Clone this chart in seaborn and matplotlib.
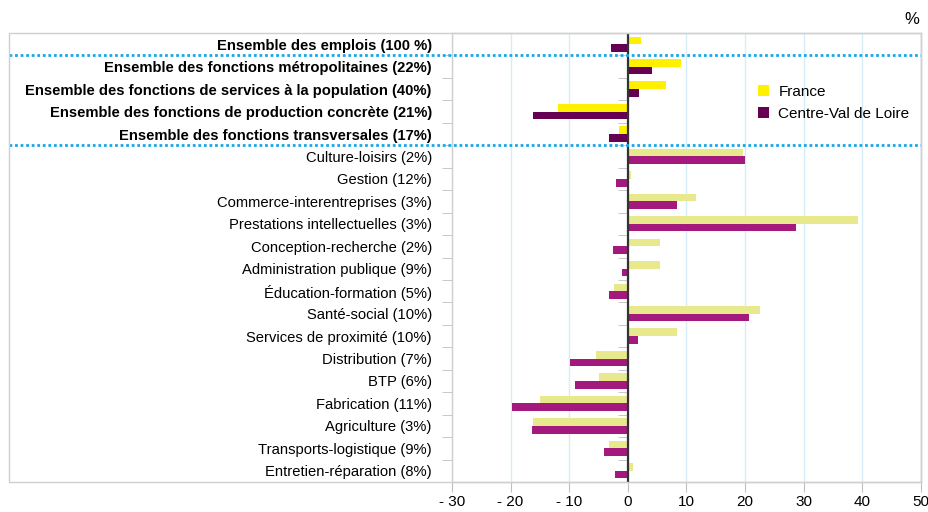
import matplotlib
matplotlib.use("Agg")
import matplotlib.pyplot as plt
import seaborn as sns
import pandas as pd
from matplotlib.patches import Patch, Rectangle
from matplotlib.ticker import FixedLocator

categories = [
    "Ensemble des emplois (100 %)",
    "Ensemble des fonctions métropolitaines (22%)",
    "Ensemble des fonctions de services à la population (40%)",
    "Ensemble des fonctions de production concrète (21%)",
    "Ensemble des fonctions transversales (17%)",
    "Culture-loisirs (2%)",
    "Gestion (12%)",
    "Commerce-interentreprises (3%)",
    "Prestations intellectuelles (3%)",
    "Conception-recherche (2%)",
    "Administration publique (9%)",
    "Éducation-formation (5%)",
    "Santé-social (10%)",
    "Services de proximité (10%)",
    "Distribution (7%)",
    "BTP (6%)",
    "Fabrication (11%)",
    "Agriculture (3%)",
    "Transports-logistique (9%)",
    "Entretien-réparation (8%)",
]
france = [2.2, 9.0, 6.5, -11.9, -1.5,
          19.6, 0.6, 11.7, 39.3, 5.5, 5.4, -2.4, 22.5, 8.3,
          -5.4, -4.9, -15.0, -16.1, -3.3, 0.8]
centre = [-2.8, 4.1, 1.95, -16.1, -3.2,
          19.9, -2.0, 8.3, 28.7, -2.6, -0.95, -3.3, 20.7, 1.8,
          -9.8, -9.0, -19.7, -16.4, -4.1, -2.2]
series = ["France", "Centre-Val de Loire"]
xticks = [-30, -20, -10, 0, 10, 20, 30, 40, 50]
xticklabels = ["- 30", "- 20", "- 10", "0", "10", "20", "30", "40", "50"]
n_summary = 5

df = pd.DataFrame({
    "cat": categories * 2,
    "val": france + centre,
    "serie": [series[0]] * len(categories) + [series[1]] * len(categories),
})

bright = ["#FFF000", "#650052"]
pale = ["#E8E88C", "#A3197E"]

plt.rcParams["font.family"] = ["Liberation Sans", "DejaVu Sans"]
W, H = 929, 512
fig = plt.figure(figsize=(W / 100, H / 100), dpi=100)
ax = fig.add_axes([452 / W, 1 - 482 / H, (921 - 452) / W, (482 - 33) / H])

sns.barplot(data=df, y="cat", x="val", hue="serie", order=categories,
            hue_order=series, palette=bright, width=0.68, orient="h",
            linewidth=0, ax=ax, legend=False)

for si, cont in enumerate(ax.containers):
    for i, bar in enumerate(cont):
        bar.set_facecolor(bright[si] if i < n_summary else pale[si])
        bar.set_edgecolor("none")
        bar.set_zorder(3)

ax.set_xlim(-30, 50)
ax.set_ylim(len(categories) - 0.5, -0.5)
ax.set_xlabel("")
ax.set_ylabel("")

# grid
ax.set_xticks(xticks)
ax.set_xticklabels(xticklabels, fontsize=11)
ax.xaxis.grid(True, color="#D6ECF8", linewidth=1)
ax.yaxis.grid(False)
ax.set_axisbelow(True)
ax.tick_params(axis="x", length=7, color="#BFBFBF", pad=2)
ax.axvline(0, color="#333333", linewidth=1.6, zorder=5)

# y labels
ax.set_yticks(range(len(categories)))
ax.set_yticklabels(categories, fontsize=10.6)
for i, lab in enumerate(ax.get_yticklabels()):
    if i < n_summary:
        lab.set_fontweight("bold")
ax.tick_params(axis="y", length=0, pad=14.5)
bounds = [i + 0.5 for i in range(len(categories) - 1)]
ax.yaxis.set_minor_locator(FixedLocator(bounds))
ax.tick_params(axis="y", which="minor", length=7, color="#BFBFBF", direction="out")

sec = ax.secondary_yaxis(30 / 80)
sec.set_yticks([])
sec.yaxis.set_minor_locator(FixedLocator(bounds))
sec.tick_params(axis="y", which="minor", length=7, color="#BFBFBF", direction="out")
for s in sec.spines.values():
    s.set_visible(False)

for s in ax.spines.values():
    s.set_color("#CFCFCF")
    s.set_linewidth(1)

# outer frame
fig.add_artist(Rectangle((9 / W, 1 - 482 / H), (921 - 9) / W, (482 - 33) / H,
                         transform=fig.transFigure, fill=False,
                         edgecolor="#CFCFCF", linewidth=1))

# dotted separators
xmin = (9 - 452) / (921 - 452)
for yb in [0.5, n_summary - 0.5]:
    ax.axhline(yb, xmin=xmin, xmax=1, color="#1AA7E6", linestyle=(0, (1, 1)),
               linewidth=2, clip_on=False, zorder=6)

fig.text(912 / W, 1 - 20 / H, "%", fontsize=12, ha="center", va="center")

handles = [Patch(facecolor=bright[0], label=series[0]),
           Patch(facecolor=bright[1], label=series[1])]
fig.legend(handles=handles, loc="upper left",
           bbox_to_anchor=(750 / W, 1 - 77 / H), frameon=False,
           fontsize=11, handlelength=0.75, handleheight=0.75,
           handletextpad=0.6, labelspacing=0.55, borderpad=0)

fig.savefig("out.png", dpi=100)
